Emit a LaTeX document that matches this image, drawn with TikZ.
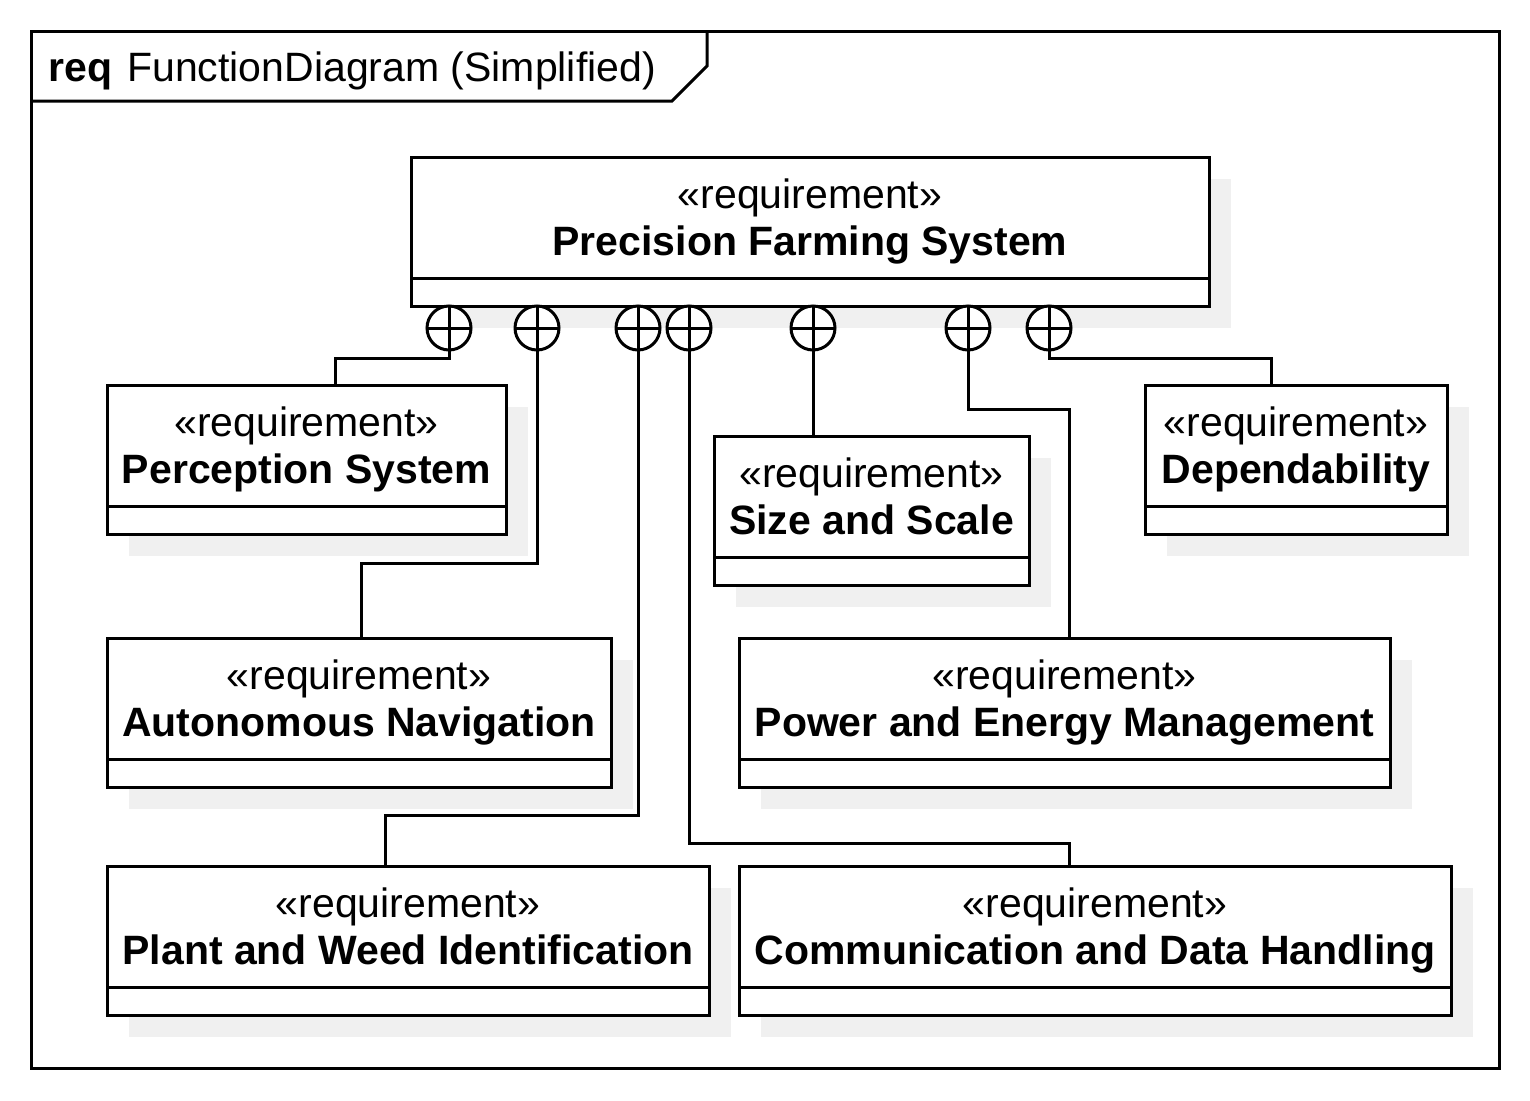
\documentclass[tikz,border=0pt]{standalone}
\usepackage{fontspec}
\setmainfont{Liberation Sans}
\usetikzlibrary{positioning}
\usetikzlibrary{shadows}
\usetikzlibrary{calc}
\definecolor{shadowgray}{RGB}{240,240,240}

\begin{document}
\begin{tikzpicture}[x=1pt,y=-1pt,line width=3pt,
  every node/.style={font=\fontsize{41}{47}\selectfont},
  req/.style={draw,fill=white,outer sep=0pt,inner sep=0pt,align=center,
    minimum height=121pt,text depth=0pt,
    drop shadow={shadow xshift=22pt,shadow yshift=-22pt,fill=shadowgray,opacity=1}},
  reqfoot/.style={req,minimum height=28pt},
  owns/.style={circle,draw,fill=white,minimum size=44pt,inner sep=0pt,outer sep=0pt,
    path picture={\draw (path picture bounding box.north) -- (path picture bounding box.south)
      (path picture bounding box.west) -- (path picture bounding box.east);}}]
  \useasboundingbox (0,0) rectangle (1530,1100);

  % frame
  \draw (31,31) rectangle (1499,1068);
  \draw (31,101) -- (672,101) -- (707,66) -- (707,31);
  \node[anchor=base west,inner sep=0pt] (title) at (47,81) {\textbf{req}\hspace{15pt}FunctionDiagram (Simplified)};

  % requirements
  \node[req,anchor=north west,minimum width=798pt] (pfs) at (411,157) {«requirement»\\\textbf{Precision Farming System}};
  \node[reqfoot,minimum width=798pt,below=0pt of pfs] (pfs_foot) {};

  \node[req,anchor=north west,minimum width=399pt] (percep) at (107,385) {«requirement»\\\textbf{Perception System}};
  \node[reqfoot,minimum width=399pt,below=0pt of percep] (percep_foot) {};

  \node[req,anchor=north west,minimum width=504pt] (auton) at (107,638) {«requirement»\\\textbf{Autonomous Navigation}};
  \node[reqfoot,minimum width=504pt,below=0pt of auton] (auton_foot) {};

  \node[req,anchor=north west,minimum width=602pt] (plant) at (107,866) {«requirement»\\\textbf{Plant and Weed Identification}};
  \node[reqfoot,minimum width=602pt,below=0pt of plant] (plant_foot) {};

  \node[req,anchor=north west,minimum width=712pt] (comm) at (739,866) {«requirement»\\\textbf{Communication and Data Handling}};
  \node[reqfoot,minimum width=712pt,below=0pt of comm] (comm_foot) {};

  \node[req,anchor=north west,minimum width=315pt] (size) at (714,436) {«requirement»\\\textbf{Size and Scale}};
  \node[reqfoot,minimum width=315pt,below=0pt of size] (size_foot) {};

  \node[req,anchor=north west,minimum width=651pt] (power) at (739,638) {«requirement»\\\textbf{Power and Energy Management}};
  \node[reqfoot,minimum width=651pt,below=0pt of power] (power_foot) {};

  \node[req,anchor=north west,minimum width=302pt] (dep) at (1145,385) {«requirement»\\\textbf{Dependability}};
  \node[reqfoot,minimum width=302pt,below=0pt of dep] (dep_foot) {};

  % containment lines
  \node[owns] (o_percep) at (449,328) {};
  \node[owns] (o_auton) at (537,328) {};
  \node[owns] (o_plant) at (638,328) {};
  \node[owns] (o_comm) at (689,328) {};
  \node[owns] (o_size) at (813,328) {};
  \node[owns] (o_power) at (968,328) {};
  \node[owns] (o_dep) at (1049,328) {};

  \draw (o_percep.south) |- ($(percep.north west)+(228,-27)$) -- ($(percep.north west)+(228,0)$);
  \draw (o_auton.south) |- ($(auton.north west)+(254,-75)$) -- ($(auton.north west)+(254,0)$);
  \draw (o_plant.south) |- ($(plant.north west)+(278,-51)$) -- ($(plant.north west)+(278,0)$);
  \draw (o_comm.south) |- ($(comm.north west)+(330,-23)$) -- ($(comm.north west)+(330,0)$);
  \draw (o_size.south) -- (o_size.south |- size.north);
  \draw (o_power.south) |- ($(power.north west)+(330,-229)$) -- ($(power.north west)+(330,0)$);
  \draw (o_dep.south) |- ($(dep.north west)+(126,-27)$) -- ($(dep.north west)+(126,0)$);
\end{tikzpicture}
\end{document}
